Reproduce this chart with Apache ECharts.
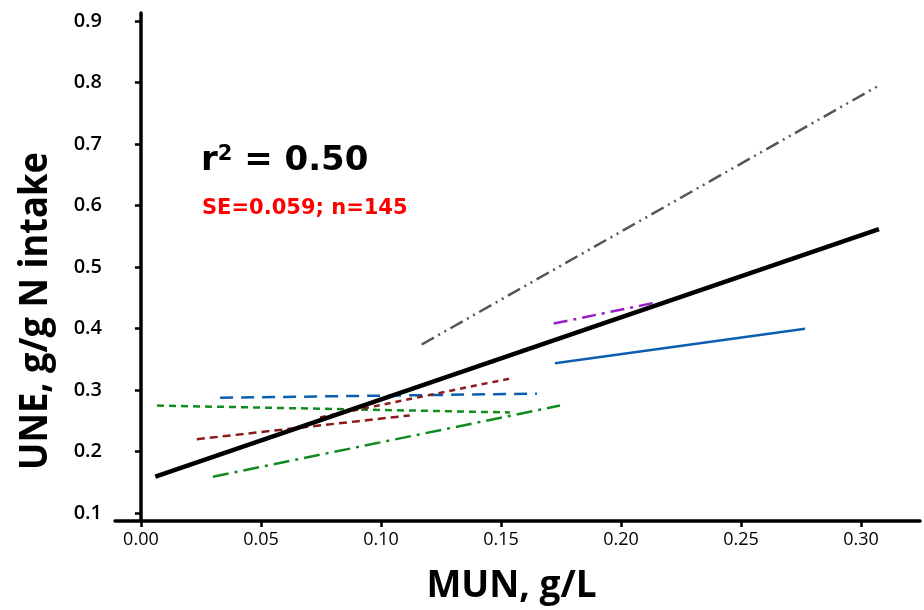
<!DOCTYPE html>
<html>
<head>
<meta charset="utf-8">
<script src="https://cdn.jsdelivr.net/npm/echarts@6/dist/echarts.min.js"></script>
<style>
  html, body { margin: 0; padding: 0; background: #fff; }
  #chart { width: 924px; height: 610px; }
</style>
</head>
<body>
<div id="chart"></div>
<script>
// regression lines: one start and one end point each
const lineNames = ['Pooled', 'Study 1', 'Study 2', 'Study 3', 'Study 4', 'Study 5', 'Study 6a', 'Study 6b', 'Study 7'];
const xStart = [0.006, 0.117, 0.172, 0.1725, 0.033, 0.0067, 0.0233, 0.0746, 0.030];
const xEnd   = [0.3075, 0.307, 0.2154, 0.2767, 0.165, 0.1538, 0.112, 0.155, 0.1746];
const yStart = [0.159, 0.374, 0.408, 0.3436, 0.2875, 0.2747, 0.220, 0.2555, 0.159];
const yEnd   = [0.5615, 0.794, 0.443, 0.3997, 0.294, 0.2635, 0.2587, 0.3196, 0.2747];

const xTicks = [0, 0.05, 0.10, 0.15, 0.20, 0.25, 0.30];
const yTicks = [0.1, 0.2, 0.3, 0.4, 0.5, 0.6, 0.7, 0.8, 0.9];

const lineColors = ['#000000', '#555555', '#9a1fc4', '#0b5fae', '#0b5fae', '#118a1f', '#8b1a1a', '#8b1a1a', '#118a1f'];
const lineWidths = [4.5, 2.5, 2.5, 2.5, 2.5, 2.5, 2.5, 2.5, 2.5];
const lineDashes = ['solid', [14, 5, 2, 5, 2, 5], [14, 6, 3, 6], 'solid', [13, 8], [7, 5], [8, 5], [6, 5], [16, 6, 3, 6]];

const chart = echarts.init(document.getElementById('chart'));

const series = lineNames.map(function (name, i) {
  return {
    name: name,
    type: 'line',
    symbol: 'none',
    silent: true,
    z: i === 0 ? 5 : 3,
    lineStyle: { color: lineColors[i], width: lineWidths[i], type: lineDashes[i] },
    data: [[xStart[i], yStart[i]], [xEnd[i], yEnd[i]]]
  };
});

chart.setOption({
  animation: false,
  backgroundColor: '#fff',
  grid: { left: 115, right: 4, top: 13, bottom: 82 },
  xAxis: {
    type: 'value',
    min: -0.0108,
    max: 0.3246,
    name: 'MUN, g/L',
    nameLocation: 'middle',
    nameGap: 47,
    nameTextStyle: { fontFamily: '"Open Sans", sans-serif', fontWeight: 'bold', fontSize: 37, color: '#000', padding: [0, 12, 0, 0] },
    axisLine: { lineStyle: { color: '#000', width: 3.5 } },
    axisTick: { customValues: xTicks, length: 6, lineStyle: { color: '#000', width: 2.5 } },
    axisLabel: {
      customValues: xTicks,
      formatter: function (v) { return v.toFixed(2); },
      fontFamily: '"Open Sans", sans-serif', fontSize: 18, color: '#000', margin: 10
    },
    splitLine: { show: false }
  },
  yAxis: {
    type: 'value',
    min: 0.087,
    max: 0.913,
    axisLine: { lineStyle: { color: '#000', width: 3.5 } },
    axisTick: { customValues: yTicks, length: 6, lineStyle: { color: '#000', width: 2.5 } },
    axisLabel: {
      customValues: yTicks,
      formatter: function (v) { return v.toFixed(1); },
      fontFamily: '"Open Sans", sans-serif', fontWeight: 600, fontSize: 20, color: '#000', margin: 13
    },
    splitLine: { show: false }
  },
  graphic: [
    {
      // y title: condensed a little so it reads like the original narrow font
      type: 'text', x: 36, y: 311, rotation: Math.PI / 2, scaleX: 0.93,
      style: {
        text: 'UNE, g/g N intake', fill: '#000',
        font: 'bold 39px "Open Sans", sans-serif',
        textAlign: 'center', textVerticalAlign: 'middle'
      }
    },
    {
      type: 'text', left: 201, top: 144,
      style: {
        text: 'r{sup|2} = 0.50',
        fill: '#000',
        font: 'bold 34px "DejaVu Sans", sans-serif',
        rich: { sup: { fontSize: 21, fontWeight: 'bold', verticalAlign: 'top', padding: [0, 0, 12, 0], fontFamily: '"DejaVu Sans", sans-serif' } }
      }
    },
    {
      type: 'text', left: 202, top: 198,
      style: { text: 'SE=0.059; n=145', fill: '#ff0000', font: 'bold 21px "DejaVu Sans", sans-serif' }
    }
  ],
  series: series
});
</script>
</body>
</html>
